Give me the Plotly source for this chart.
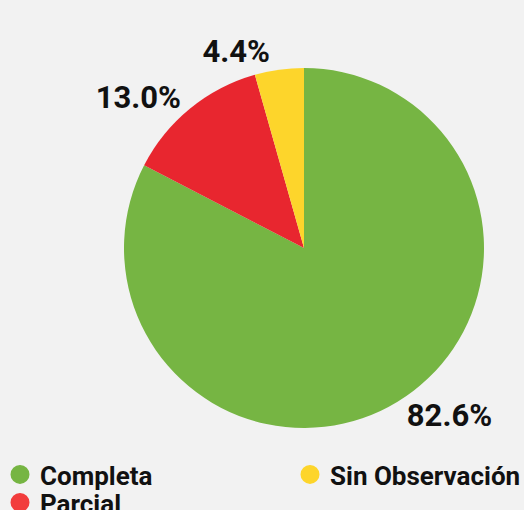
import plotly.graph_objects as go

labels = ["Completa", "Parcial", "Sin Observación"]
values = [82.6, 13.0, 4.4]
colors = ["#76b543", "#e8262f", "#fdd52b"]
legend_colors = {"Completa": "#76b543", "Parcial": "#f23d3d", "Sin Observación": "#fdd52b"}
# each legend entry in its own box, laid out as two columns
legend_slot = {"Completa": "legend", "Parcial": "legend3", "Sin Observación": "legend2"}

LEGEND_TOP = 451
fig = go.Figure()

fig.add_trace(go.Pie(
    labels=labels,
    values=values,
    sort=False,
    direction="clockwise",
    rotation=0,
    marker=dict(colors=colors, line=dict(width=0)),
    texttemplate="%{value:.1f}%",
    textposition="outside",
    outsidetextfont=dict(family="Roboto", size=31, color="#111111", weight="bold"),
    showlegend=False,
    hoverinfo="label+percent",
    # legends reserve the strip below LEGEND_TOP, so the domain is relative to the rest
    domain=dict(x=[(304 - 180) / 524, (304 + 180) / 524],
                y=[(LEGEND_TOP - 248 - 180) / LEGEND_TOP, (LEGEND_TOP - 248 + 180) / LEGEND_TOP]),
))

for name in labels:
    fig.add_trace(go.Scatter(
        x=[None], y=[None], mode="markers", name=name,
        marker=dict(color=legend_colors[name], size=16, symbol="circle",
                    line=dict(color=legend_colors[name], width=3)),
        showlegend=True, legend=legend_slot[name],
    ))

fig.update_xaxes(visible=False)
fig.update_yaxes(visible=False)

legend_font = dict(family="Roboto", size=26, color="#111111", weight="bold")


def legend_box(x_px, y_px):
    return dict(
        orientation="h",
        xref="container", yref="container",
        x=x_px / 524, xanchor="left",
        y=1 - y_px / 510, yanchor="top",
        font=legend_font,
        itemsizing="trace",
        bgcolor="rgba(0,0,0,0)",
    )


fig.update_layout(
    width=524, height=510,
    margin=dict(l=0, r=0, t=0, b=0),
    paper_bgcolor="#f2f2f2",
    plot_bgcolor="#f2f2f2",
    font=dict(family="Roboto", color="#111111"),
    legend=legend_box(0, LEGEND_TOP),
    legend2=legend_box(290, LEGEND_TOP),
    legend3=legend_box(0, LEGEND_TOP + 28),
)

fig.write_html("out.html", config={"displayModeBar": False},
               post_script="document.body.style.margin='0';")
